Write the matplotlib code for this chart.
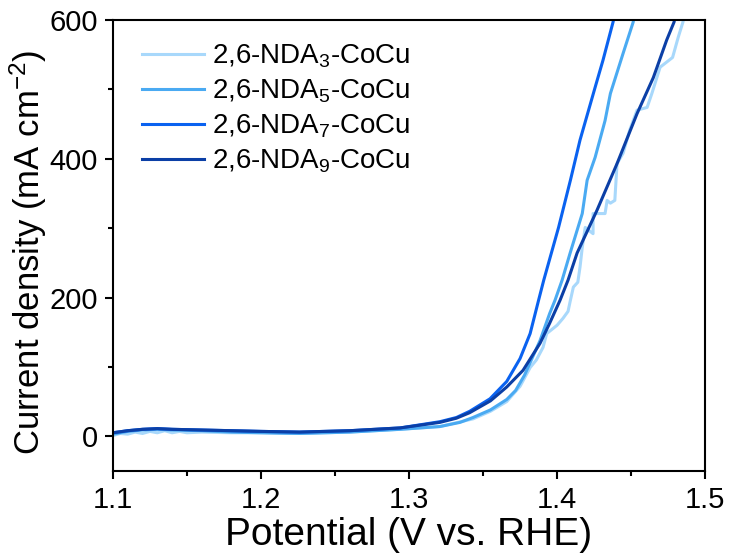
import matplotlib
matplotlib.use("Agg")
import matplotlib.pyplot as plt
from matplotlib.ticker import MultipleLocator

plt.rcParams['font.family'] = ['Liberation Sans', 'DejaVu Sans']
plt.rcParams['mathtext.fontset'] = 'custom'
plt.rcParams['mathtext.rm'] = 'Liberation Sans'
plt.rcParams['mathtext.it'] = 'Liberation Sans:italic'

labels = ['2,6-NDA$_3$-CoCu', '2,6-NDA$_5$-CoCu', '2,6-NDA$_7$-CoCu', '2,6-NDA$_9$-CoCu']
colors = ['#a8d8fb', '#4aaaf2', '#0a62f0', '#0b3fa6']

v3 = [1.100, 1.105, 1.110, 1.115, 1.120, 1.125, 1.130, 1.135, 1.140, 1.145, 1.150, 1.160, 1.180, 1.200,
      1.226, 1.260, 1.294, 1.3209, 1.3432, 1.355, 1.366, 1.375, 1.3818, 1.386, 1.3905, 1.393,
      1.400, 1.404, 1.4074, 1.409, 1.411, 1.414, 1.4155, 1.417, 1.419, 1.4243, 1.4243, 1.4324,
      1.4338, 1.436, 1.439, 1.4405, 1.4446, 1.449, 1.454, 1.4608, 1.464, 1.4696, 1.478, 1.4818, 1.485, 1.487]
j3 = [1, 4, 3, 6, 4, 7, 5, 8, 5, 7, 5, 6, 5, 5,
      4, 6, 10, 14, 25, 36, 50, 72, 99, 110, 128, 148,
      160, 170, 180, 196, 215, 222, 244, 272, 301, 292, 321, 321,
      340, 336, 340, 393, 408, 441, 470, 474, 494, 532, 546, 575, 597, 620]

v5 = [1.100, 1.110, 1.120, 1.130, 1.140, 1.160, 1.180, 1.200, 1.226, 1.260, 1.294, 1.3209, 1.3345,
      1.3432, 1.355, 1.366, 1.372, 1.378, 1.3885, 1.395, 1.3986, 1.4034, 1.4088, 1.417, 1.4203,
      1.4257, 1.4324, 1.436, 1.4446, 1.4514, 1.453]
j5 = [3, 7, 9, 10, 9, 8, 6, 5, 4, 6, 10, 14, 20,
      27, 38, 53, 66, 88, 138, 177, 196, 225, 264, 321, 369,
      402, 455, 494, 552, 597, 620]

v7 = [1.100, 1.110, 1.120, 1.130, 1.140, 1.160, 1.180, 1.200, 1.226, 1.260, 1.294, 1.3209, 1.332,
      1.341, 1.3547, 1.366, 1.375, 1.3818, 1.3875, 1.391, 1.401, 1.409, 1.4155, 1.4257, 1.431,
      1.4378, 1.440]
j7 = [5, 8, 10, 11, 10, 9, 8, 7, 6, 8, 12, 21, 27,
      36, 54, 79, 112, 148, 196, 225, 301, 369, 427, 503, 542,
      597, 620]

v9 = [1.100, 1.110, 1.120, 1.130, 1.140, 1.160, 1.180, 1.200, 1.226, 1.260, 1.294, 1.3209, 1.332,
      1.341, 1.355, 1.366, 1.377, 1.3885, 1.395, 1.402, 1.4074, 1.4135, 1.427, 1.4405, 1.454,
      1.465, 1.474, 1.479, 1.481]
j9 = [5, 8, 10, 11, 10, 9, 8, 7, 6, 8, 12, 20, 26,
      34, 51, 71, 95, 134, 163, 196, 225, 264, 326, 393, 465,
      517, 571, 597, 620]

fig = plt.figure(figsize=(7.33, 5.56), dpi=100)
ax = fig.add_axes([0.154, 0.153, 0.808, 0.811])

for v, j, c, lab in zip([v3, v5, v7, v9], [j3, j5, j7, j9], colors, labels):
    ax.plot(v, j, color=c, lw=2.2, label=lab)

ax.set_xlim(1.1, 1.5)
ax.set_ylim(-50, 600)
ax.xaxis.set_major_locator(MultipleLocator(0.1))
ax.xaxis.set_minor_locator(MultipleLocator(0.05))
ax.yaxis.set_major_locator(MultipleLocator(200))
ax.yaxis.set_minor_locator(MultipleLocator(100))
ax.tick_params(which='major', direction='out', length=6, width=1.5, labelsize=21, pad=5)
ax.tick_params(which='minor', direction='out', length=3.5, width=1.5)
for s in ax.spines.values():
    s.set_linewidth(1.5)

ax.set_xlabel('Potential (V vs. RHE)', fontsize=28, labelpad=2)
ax.set_ylabel('Current density (mA cm$^{-2}$)', fontsize=25)
ax.yaxis.set_label_coords(-0.108, 0.486)

ax.legend(loc='upper left', fontsize=20, frameon=False, handlelength=2.2,
          handletextpad=0.3, labelspacing=0.27, borderaxespad=0.0, borderpad=0.0,
          bbox_to_anchor=(0.05, 0.95))

fig.savefig('out.png', dpi=100)
